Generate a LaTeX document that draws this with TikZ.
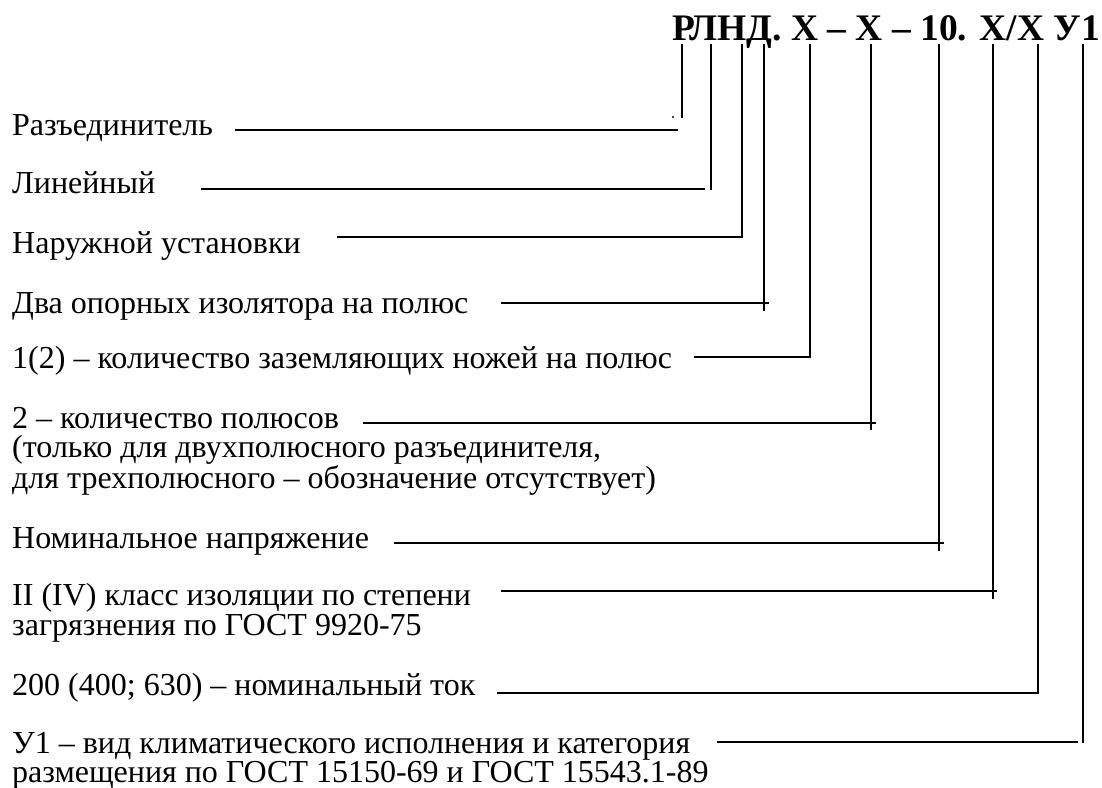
\documentclass[tikz,border=0pt]{standalone}
\usepackage{fontspec}
\setmainfont{Liberation Serif}
\tikzset{lbl/.style={anchor=base west,inner sep=0pt,align=left,font=\fontsize{32}{29}\selectfont},
	lead/.style={line width=1.8pt}}
\begin{document}
\begin{tikzpicture}[x=1pt,y=-1pt,line cap=rect]
	\useasboundingbox (0,0) rectangle (1102,787);
	%обозначение разъединителя и расшифровка
	\node[anchor=base west,inner sep=0pt,font=\fontsize{37.5}{37.5}\selectfont\bfseries] (mark) at (672,40) {РЛНД. X – X – 10. X/X У1};
	\node[lbl] (razed) at (12,135) {Разъединитель};
	\node[lbl] (lin) at (12,193) {Линейный};
	\node[lbl] (naruzh) at (12,253) {Наружной установки};
	\node[lbl] (izol) at (12,313) {Два опорных изолятора на полюс};
	\node[lbl] (nozh) at (12,368) {1(2) – количество заземляющих ножей на полюс};
	\node[lbl] (polus) at (12,488) {2 – количество полюсов\\(только для двухполюсного разъединителя,\\для трехполюсного – обозначение отсутствует)};
	\node[lbl] (napr) at (12,548) {Номинальное напряжение};
	\node[lbl,font=\fontsize{32}{30}\selectfont] (klass) at (12,635) {II (IV) класс изоляции по степени\\загрязнения по ГОСТ 9920-75};
	\node[lbl] (tok) at (12,695) {200 (400; 630) – номинальный ток};
	\node[lbl] (klim) at (12,782) {У1 – вид климатического исполнения и категория\\размещения по ГОСТ 15150-69 и ГОСТ 15543.1-89};
	\foreach \n/\xs/\y/\xe/\xv/\yv in {1/236/130/677/682/117,2/202/189/704/711/189,3/338/237/742/742/237,
		4/502/303/768/764/310,5/695/357/810/810/357,6/364/423/875/871/429,7/395/543/943/939/550,
		8/502/591/996/993/598,9/498/693/1038/1038/693,10/718/742/1077/1083/742}
	{\coordinate (s\n) at (\xs,\y); \coordinate (e\n) at (\xe,\y);
		\coordinate (t\n) at (\xv,45); \coordinate (b\n) at (\xv,\yv);
		\draw[lead] (s\n)--(e\n) (t\n)--(b\n);}
	\fill (673,117) circle (1.2pt);
\end{tikzpicture}
\end{document}
